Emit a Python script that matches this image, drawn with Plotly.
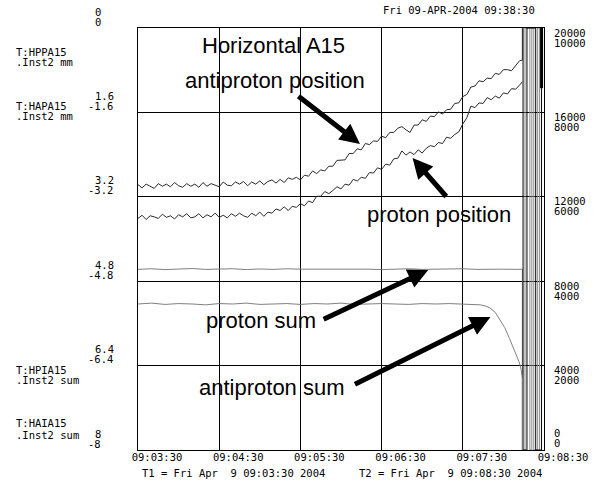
import plotly.graph_objects as go

# ---------------- data ----------------
# time axis (seconds after T1 = 09:03:30)
x_tick_seconds = [0, 60, 120, 180, 240, 300]
x_tick_labels = ["09:03:30", "09:04:30", "09:05:30", "09:06:30", "09:07:30", "09:08:30"]

# left axis labels (two rows per grid line, top -> bottom)
left_row1 = ["0", "1.6", "3.2", "4.8", "6.4", "8"]
left_row2 = ["0", "-1.6", "-3.2", "-4.8", "-6.4", "-8"]
# right axis labels (two rows per grid line, top -> bottom)
right_row1 = ["20000", "16000", "12000", "8000", "4000", "0"]
right_row2 = ["10000", "8000", "6000", "4000", "2000", "0"]

channel_names = ["T:HPPA15", "T:HAPA15", "T:HPIA15", "T:HAIA15"]
channel_units = [".Inst2 mm", ".Inst2 mm", ".Inst2 sum", ".Inst2 sum"]

header_text = "Fri 09-APR-2004 09:38:30"
t1_text = "T1 = Fri Apr\u00a0\u00a09 09:03:30 2004"
t2_text = "T2 = Fri Apr\u00a0\u00a09 09:08:30 2004"

big_texts = ["Horizontal A15", "antiproton position", "proton position",
             "proton sum", "antiproton sum"]

# position samples (s)
pos_t = [0, 3, 6, 9, 12, 15, 18, 21, 24, 27, 30, 33, 36, 39, 42, 45, 48, 51, 54, 57,
         60, 63, 66, 69, 72, 75, 78, 81, 84, 87, 90, 93, 96, 99, 102, 105, 108, 111, 114, 117,
         120, 123, 126, 129, 132, 135, 138, 141, 144, 147, 150, 153, 156, 159, 162, 165, 168, 171, 174, 177,
         180, 183, 186, 189, 192, 195, 198, 201, 204, 207, 210, 213, 216, 219, 222, 225, 228, 231, 234, 237,
         240, 243, 246, 249, 252, 255, 258, 261, 264, 267, 270, 273, 276, 279, 282, 284]

# T:HPPA15 proton position (mm)
hppa_mm = [3.61, 3.55, 3.63, 3.56, 3.58, 3.61, 3.53, 3.59, 3.56, 3.62, 3.54, 3.58, 3.52, 3.60, 3.58, 3.52, 3.60, 3.54, 3.58, 3.51,
           3.59, 3.55, 3.60, 3.52, 3.57, 3.51, 3.56, 3.59, 3.51, 3.56, 3.49, 3.57, 3.49, 3.51, 3.43, 3.46, 3.39, 3.46, 3.38, 3.40,
           3.33, 3.37, 3.28, 3.31, 3.19, 3.19, 3.10, 3.14, 3.08, 3.01, 3.05, 2.96, 2.98, 2.87, 2.90, 2.83, 2.85, 2.74, 2.75, 2.65,
           2.68, 2.58, 2.60, 2.48, 2.47, 2.33, 2.41, 2.35, 2.40, 2.31, 2.37, 2.28, 2.23, 2.25, 2.17, 2.19, 2.07, 2.09, 2.02, 1.97,
           1.82, 1.70, 1.48, 1.51, 1.42, 1.43, 1.32, 1.36, 1.29, 1.33, 1.23, 1.25, 1.15, 1.16, 1.08, 1.02]

# T:HAPA15 antiproton position (mm)
hapa_mm = [-2.97, -3.03, -2.96, -3.00, -3.04, -2.95, -3.00, -2.96, -3.01, -2.93, -2.99, -3.02, -2.95, -3.00, -2.96, -3.02, -2.93, -3.00, -2.95, -2.98,
           -3.01, -2.92, -2.98, -2.99, -2.92, -2.96, -2.91, -2.99, -2.92, -2.96, -2.90, -2.97, -2.91, -2.88, -2.94, -2.87, -2.93, -2.84, -2.87, -2.83,
           -2.88, -2.79, -2.81, -2.71, -2.76, -2.69, -2.71, -2.62, -2.62, -2.51, -2.51, -2.50, -2.38, -2.38, -2.29, -2.31, -2.19, -2.21, -2.14, -2.15,
           -2.05, -2.08, -1.98, -1.98, -1.90, -1.87, -1.93, -1.98, -1.84, -1.84, -1.74, -1.77, -1.67, -1.68, -1.59, -1.63, -1.55, -1.54, -1.43, -1.42,
           -1.30, -1.26, -1.12, -1.10, -1.00, -1.02, -0.95, -0.96, -0.86, -0.88, -0.79, -0.79, -0.81, -0.71, -0.62, -0.61]

# T:HPIA15 proton sum
hpia_t = [0, 10, 20, 30, 40, 50, 60, 70, 80, 90, 100, 110, 120, 130, 140, 150, 160, 170, 180, 190,
          200, 210, 220, 230, 240, 250, 260, 270, 280, 284, 284]
hpia_sum = [8560, 8590, 8550, 8580, 8600, 8560, 8570, 8590, 8550, 8580, 8560, 8590, 8570, 8570, 8580, 8560, 8590, 8570, 8550, 8580,
            8590, 8560, 8580, 8570, 8590, 8560, 8580, 8570, 8560, 8570, 0]

# T:HAIA15 antiproton sum
haia_t = [0, 10, 20, 30, 40, 50, 60, 70, 80, 90, 100, 110, 120, 130, 140, 150, 160, 170, 180, 190,
          200, 210, 220, 230, 240, 247, 253, 257, 260, 264, 267, 271, 274.5, 278, 281.7, 283.1, 284, 284]
haia_sum = [3460, 3480, 3450, 3470, 3460, 3440, 3470, 3460, 3480, 3450, 3460, 3470, 3450, 3470, 3460, 3480, 3450, 3460, 3470, 3460,
            3450, 3470, 3460, 3470, 3460, 3455, 3440, 3410, 3370, 3260, 3110, 2900, 2640, 2370, 2080, 1910, 1700, 0]

# beam-abort trace bursts (on the HPIA scale)
dump_black_t = [284.53, 284.53, 287.41, 287.41, 293.88, 293.88, 298.2, 298.2]
dump_black_v = [20000, 0, 0, 20000, 20000, 0, 0, 20000]
dump_gray_t = [285.97, 285.97, 289.57, 289.57, 291.01, 291.01, 292.45, 292.45, 295.32, 295.32, 296.76, 296.76]
dump_gray_v = [0, 20000, 20000, 0, 0, 20000, 20000, 0, 0, 20000, 20000, 0]
dump_thick_t = [298.2, 298.2]
dump_thick_v = [20000, 17150]

# ---------------- layout geometry ----------------
W, H = 600, 483
PL, PR, PT, PB = 138, 555, 28, 450
MONO = "DejaVu Sans Mono"
SANS = "Liberation Sans"


def px(x):
    return (x - PL) / (PR - PL)


def py(y):
    return (PB - y) / (PB - PT)


fig = go.Figure()

line_dark = "#2a2a2a"
line_gray = "#808080"

fig.add_trace(go.Scatter(x=pos_t, y=hppa_mm, yaxis="y3", mode="lines",
                         line=dict(color=line_dark, width=1)))
fig.add_trace(go.Scatter(x=pos_t + [pos_t[-1]], y=hapa_mm + [0], yaxis="y4", mode="lines",
                         line=dict(color=line_dark, width=1)))
fig.add_trace(go.Scatter(x=hpia_t, y=hpia_sum, yaxis="y", mode="lines",
                         line=dict(color=line_gray, width=1)))
fig.add_trace(go.Scatter(x=haia_t, y=haia_sum, yaxis="y2", mode="lines",
                         line=dict(color=line_gray, width=1)))
fig.add_trace(go.Scatter(x=dump_gray_t, y=dump_gray_v, yaxis="y", mode="lines",
                         line=dict(color="#8a8a8a", width=1)))
fig.add_trace(go.Scatter(x=dump_black_t, y=dump_black_v, yaxis="y", mode="lines",
                         line=dict(color="black", width=1)))
fig.add_trace(go.Scatter(x=dump_thick_t, y=dump_thick_v, yaxis="y", mode="lines",
                         line=dict(color="black", width=3)))

ann = []
mono = dict(family=MONO, size=10.5, color="black")

# left scale labels (above each grid line)
for s in left_row1:
    v = float(s)
    ann.append(dict(x=px(91.5 if not s.startswith("-") else 85), xref="paper", y=v, yref="y3",
                    yshift=16.5, text=s, showarrow=False, xanchor="left",
                    yanchor="middle", font=mono))
for s in left_row2:
    v = float(s)
    ann.append(dict(x=px(91.5 if not s.startswith("-") else 85), xref="paper", y=v, yref="y4",
                    yshift=6.5, text=s, showarrow=False, xanchor="left",
                    yanchor="middle", font=mono))

# right scale labels (below each grid line, bottom one above)
for i, s in enumerate(right_row1):
    v = float(s)
    ys = 17 if i == len(right_row1) - 1 else -4.5
    ann.append(dict(x=px(563), xref="paper", y=v, yref="y", yshift=ys, text=s,
                    showarrow=False, xanchor="left", yanchor="middle", font=mono))
for i, s in enumerate(right_row2):
    v = float(s)
    ys = 7 if i == len(right_row2) - 1 else -14.5
    ann.append(dict(x=px(563), xref="paper", y=v, yref="y2", yshift=ys, text=s,
                    showarrow=False, xanchor="left", yanchor="middle", font=mono))

# channel names
name_y = [52, 106, 370, 423]
unit_y = [62, 116, 380, 435]
for n, u, yn, yu in zip(channel_names, channel_units, name_y, unit_y):
    ann.append(dict(x=px(11), xref="paper", y=py(yn), yref="paper", text=n,
                    showarrow=False, xanchor="left", yanchor="middle", font=mono))
    ann.append(dict(x=px(11), xref="paper", y=py(yu), yref="paper", text=u,
                    showarrow=False, xanchor="left", yanchor="middle", font=mono))

# header / footer
ann.append(dict(x=px(548), xref="paper", y=py(10), yref="paper", text=header_text,
                showarrow=False, xanchor="right", yanchor="middle", font=mono))
ann.append(dict(x=px(140), xref="paper", y=py(473), yref="paper", text=t1_text,
                showarrow=False, xanchor="left", yanchor="middle", font=mono))
ann.append(dict(x=px(363), xref="paper", y=py(473), yref="paper", text=t2_text,
                showarrow=False, xanchor="left", yanchor="middle", font=mono))

# big callout texts (right edge, vertical centre)
big_pos = [(353, 45.5), (373, 80.5), (523, 214.5), (323, 320.5), (353, 387.5)]
sans = dict(family=SANS, size=22, color="black")
for t, (xr, yc) in zip(big_texts, big_pos):
    ann.append(dict(x=px(xr), xref="paper", y=py(yc), yref="paper", text=t,
                    showarrow=False, xanchor="right", yanchor="middle", font=sans))

# arrows: tip (x, y) and tail
arrows = [((366, 144), (303, 95)), ((420, 158), (455, 198)),
          ((436, 270), (330, 320)), ((500, 317), (363, 385))]
for (tx, ty), (sx, sy) in arrows:
    ann.append(dict(x=px(tx), xref="paper", y=py(ty), yref="paper", text="",
                    showarrow=True, ax=sx - tx, ay=sy - ty, axref="pixel", ayref="pixel",
                    arrowhead=2, arrowsize=0.8, arrowwidth=5, arrowcolor="black",
                    standoff=0, startstandoff=0))

hidden = dict(overlaying="y", visible=False, showgrid=False, zeroline=False)

fig.update_layout(
    width=W, height=H,
    margin=dict(l=PL, r=W - PR, t=PT, b=H - PB, pad=0),
    paper_bgcolor="white", plot_bgcolor="white",
    showlegend=False,
    font=dict(family=MONO, size=10.5, color="black"),
    xaxis=dict(range=[0, 300], tickvals=x_tick_seconds, ticktext=x_tick_labels,
               showgrid=True, gridcolor="black", gridwidth=1, zeroline=False,
               showline=True, mirror=True, linecolor="black", linewidth=1,
               ticks="", tickfont=mono, ticklabelshift=19, ticklabelstandoff=-3),
    yaxis=dict(range=[0, 20000], tickvals=[float(s) for s in right_row1],
               showgrid=True, gridcolor="black", gridwidth=1, zeroline=False,
               showline=True, mirror=True, linecolor="black", linewidth=1,
               showticklabels=False, ticks=""),
    yaxis2=dict(range=[0, 10000], **hidden),
    yaxis3=dict(range=[8, 0], **hidden),
    yaxis4=dict(range=[-8, 0], **hidden),
    annotations=ann,
)

fig.write_html("out.html", config={"displayModeBar": False},
               post_script="document.body.style.margin='0px';")
